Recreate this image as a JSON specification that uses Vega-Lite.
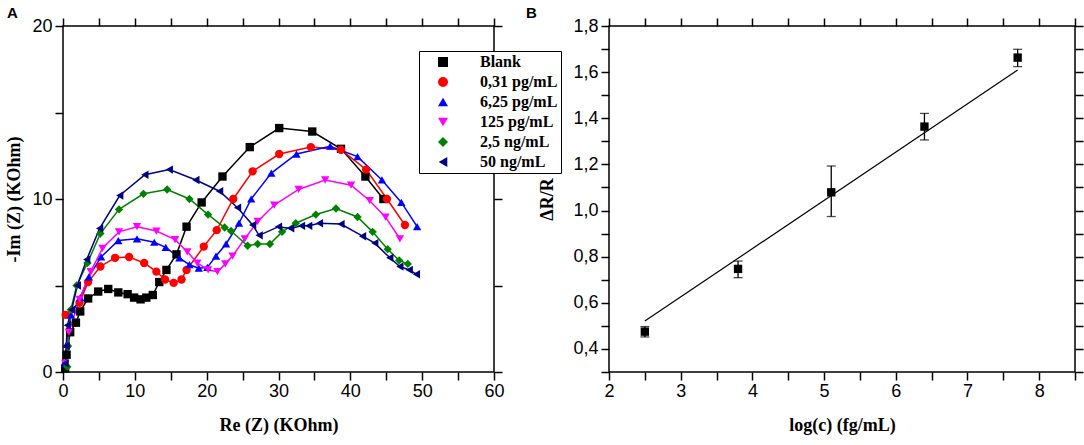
{
"$schema": "https://vega.github.io/schema/vega-lite/v6.json",
"padding": 5,
"background": "white",
"datasets": {
"eis": [
{"s":"Blank","x":0.3,"y":0.2},{"s":"Blank","x":0.5,"y":1.0},{"s":"Blank","x":1.0,"y":2.3},{"s":"Blank","x":1.8,"y":2.85},{"s":"Blank","x":2.4,"y":3.5},{"s":"Blank","x":3.5,"y":4.25},{"s":"Blank","x":4.9,"y":4.65},{"s":"Blank","x":6.3,"y":4.8},{"s":"Blank","x":7.7,"y":4.6},{"s":"Blank","x":9.0,"y":4.5},{"s":"Blank","x":9.9,"y":4.3},{"s":"Blank","x":10.8,"y":4.2},{"s":"Blank","x":11.6,"y":4.3},{"s":"Blank","x":12.5,"y":4.45},{"s":"Blank","x":13.4,"y":5.2},{"s":"Blank","x":14.4,"y":5.9},{"s":"Blank","x":15.8,"y":6.8},{"s":"Blank","x":17.2,"y":8.4},{"s":"Blank","x":19.3,"y":9.8},{"s":"Blank","x":22.2,"y":11.3},{"s":"Blank","x":26.0,"y":13.0},{"s":"Blank","x":30.1,"y":14.1},{"s":"Blank","x":34.7,"y":13.9},{"s":"Blank","x":38.7,"y":12.9},{"s":"Blank","x":42.1,"y":11.3},{"s":"Blank","x":44.6,"y":10.0},
{"s":"0,31 pg/mL","x":0.37,"y":3.3},{"s":"0,31 pg/mL","x":2.3,"y":4.0},{"s":"0,31 pg/mL","x":3.5,"y":5.2},{"s":"0,31 pg/mL","x":5.2,"y":6.1},{"s":"0,31 pg/mL","x":7.25,"y":6.6},{"s":"0,31 pg/mL","x":9.2,"y":6.65},{"s":"0,31 pg/mL","x":11.3,"y":6.3},{"s":"0,31 pg/mL","x":13.0,"y":5.8},{"s":"0,31 pg/mL","x":14.2,"y":5.35},{"s":"0,31 pg/mL","x":15.4,"y":5.15},{"s":"0,31 pg/mL","x":16.5,"y":5.35},{"s":"0,31 pg/mL","x":17.2,"y":5.9},{"s":"0,31 pg/mL","x":19.6,"y":7.25},{"s":"0,31 pg/mL","x":21.4,"y":8.2},{"s":"0,31 pg/mL","x":23.7,"y":10.0},{"s":"0,31 pg/mL","x":26.4,"y":11.6},{"s":"0,31 pg/mL","x":30.1,"y":12.6},{"s":"0,31 pg/mL","x":34.5,"y":13.0},{"s":"0,31 pg/mL","x":38.7,"y":12.85},{"s":"0,31 pg/mL","x":42.2,"y":11.7},{"s":"0,31 pg/mL","x":45.1,"y":10.0},{"s":"0,31 pg/mL","x":47.6,"y":8.5},
{"s":"6,25 pg/mL","x":0.3,"y":0.5},{"s":"6,25 pg/mL","x":0.5,"y":1.6},{"s":"6,25 pg/mL","x":1.1,"y":3.3},{"s":"6,25 pg/mL","x":2.4,"y":4.3},{"s":"6,25 pg/mL","x":3.6,"y":5.5},{"s":"6,25 pg/mL","x":5.3,"y":6.65},{"s":"6,25 pg/mL","x":7.7,"y":7.6},{"s":"6,25 pg/mL","x":10.3,"y":7.7},{"s":"6,25 pg/mL","x":12.7,"y":7.5},{"s":"6,25 pg/mL","x":14.3,"y":7.2},{"s":"6,25 pg/mL","x":16.2,"y":6.6},{"s":"6,25 pg/mL","x":17.6,"y":6.2},{"s":"6,25 pg/mL","x":18.9,"y":6.0},{"s":"6,25 pg/mL","x":20.1,"y":6.05},{"s":"6,25 pg/mL","x":21.3,"y":6.7},{"s":"6,25 pg/mL","x":22.7,"y":7.4},{"s":"6,25 pg/mL","x":24.5,"y":8.6},{"s":"6,25 pg/mL","x":26.2,"y":10.0},{"s":"6,25 pg/mL","x":29.0,"y":11.5},{"s":"6,25 pg/mL","x":32.5,"y":12.6},{"s":"6,25 pg/mL","x":37.2,"y":13.05},{"s":"6,25 pg/mL","x":41.0,"y":12.45},{"s":"6,25 pg/mL","x":44.4,"y":11.1},{"s":"6,25 pg/mL","x":47.1,"y":9.8},{"s":"6,25 pg/mL","x":49.3,"y":8.4},
{"s":"125 pg/mL","x":0.3,"y":0.5},{"s":"125 pg/mL","x":0.8,"y":2.3},{"s":"125 pg/mL","x":2.3,"y":4.2},{"s":"125 pg/mL","x":3.85,"y":5.8},{"s":"125 pg/mL","x":5.5,"y":7.15},{"s":"125 pg/mL","x":7.8,"y":8.1},{"s":"125 pg/mL","x":10.3,"y":8.4},{"s":"125 pg/mL","x":13.0,"y":8.15},{"s":"125 pg/mL","x":15.6,"y":7.65},{"s":"125 pg/mL","x":17.3,"y":6.95},{"s":"125 pg/mL","x":18.7,"y":6.3},{"s":"125 pg/mL","x":20.2,"y":5.9},{"s":"125 pg/mL","x":21.5,"y":5.8},{"s":"125 pg/mL","x":22.6,"y":6.25},{"s":"125 pg/mL","x":23.6,"y":6.7},{"s":"125 pg/mL","x":25.3,"y":7.7},{"s":"125 pg/mL","x":27.1,"y":8.7},{"s":"125 pg/mL","x":29.4,"y":9.65},{"s":"125 pg/mL","x":32.8,"y":10.55},{"s":"125 pg/mL","x":36.5,"y":11.1},{"s":"125 pg/mL","x":40.1,"y":10.8},{"s":"125 pg/mL","x":42.7,"y":9.9},{"s":"125 pg/mL","x":44.9,"y":8.95},{"s":"125 pg/mL","x":46.9,"y":7.7},
{"s":"2,5 ng/mL","x":0.6,"y":0.3},{"s":"2,5 ng/mL","x":0.7,"y":1.5},{"s":"2,5 ng/mL","x":1.1,"y":3.6},{"s":"2,5 ng/mL","x":1.9,"y":5.0},{"s":"2,5 ng/mL","x":3.4,"y":6.3},{"s":"2,5 ng/mL","x":5.2,"y":8.0},{"s":"2,5 ng/mL","x":7.8,"y":9.4},{"s":"2,5 ng/mL","x":11.2,"y":10.3},{"s":"2,5 ng/mL","x":14.5,"y":10.55},{"s":"2,5 ng/mL","x":17.6,"y":10.0},{"s":"2,5 ng/mL","x":20.2,"y":9.1},{"s":"2,5 ng/mL","x":22.5,"y":8.35},{"s":"2,5 ng/mL","x":23.4,"y":8.15},{"s":"2,5 ng/mL","x":25.7,"y":7.3},{"s":"2,5 ng/mL","x":27.1,"y":7.4},{"s":"2,5 ng/mL","x":28.8,"y":7.4},{"s":"2,5 ng/mL","x":30.5,"y":8.1},{"s":"2,5 ng/mL","x":32.4,"y":8.6},{"s":"2,5 ng/mL","x":35.2,"y":9.1},{"s":"2,5 ng/mL","x":38.0,"y":9.45},{"s":"2,5 ng/mL","x":41.0,"y":8.96},{"s":"2,5 ng/mL","x":43.1,"y":8.1},{"s":"2,5 ng/mL","x":45.2,"y":7.1},{"s":"2,5 ng/mL","x":46.8,"y":6.45},{"s":"2,5 ng/mL","x":48.0,"y":6.25},
{"s":"50 ng/mL","x":0.3,"y":0.5},{"s":"50 ng/mL","x":0.45,"y":1.5},{"s":"50 ng/mL","x":0.6,"y":2.7},{"s":"50 ng/mL","x":1.2,"y":3.6},{"s":"50 ng/mL","x":2.0,"y":5.0},{"s":"50 ng/mL","x":3.3,"y":6.5},{"s":"50 ng/mL","x":5.1,"y":8.3},{"s":"50 ng/mL","x":7.9,"y":10.2},{"s":"50 ng/mL","x":11.4,"y":11.4},{"s":"50 ng/mL","x":14.8,"y":11.7},{"s":"50 ng/mL","x":18.5,"y":11.1},{"s":"50 ng/mL","x":21.8,"y":10.45},{"s":"50 ng/mL","x":24.3,"y":9.5},{"s":"50 ng/mL","x":26.4,"y":8.5},{"s":"50 ng/mL","x":27.3,"y":7.9},{"s":"50 ng/mL","x":30.0,"y":8.4},{"s":"50 ng/mL","x":31.7,"y":8.3},{"s":"50 ng/mL","x":33.2,"y":8.45},{"s":"50 ng/mL","x":34.2,"y":8.45},{"s":"50 ng/mL","x":35.7,"y":8.6},{"s":"50 ng/mL","x":38.7,"y":8.55},{"s":"50 ng/mL","x":41.7,"y":7.85},{"s":"50 ng/mL","x":43.4,"y":7.45},{"s":"50 ng/mL","x":45.5,"y":6.6},{"s":"50 ng/mL","x":46.9,"y":6.1},{"s":"50 ng/mL","x":48.2,"y":5.9},{"s":"50 ng/mL","x":49.2,"y":5.65}
],
"cal": [
{"x":2.5,"y":0.475,"lo":0.452,"hi":0.497},
{"x":3.8,"y":0.747,"lo":0.709,"hi":0.781},
{"x":5.1,"y":1.079,"lo":0.974,"hi":1.193},
{"x":6.4,"y":1.364,"lo":1.306,"hi":1.421},
{"x":7.7,"y":1.663,"lo":1.624,"hi":1.699}
],
"fit": [
{"x":2.5,"y":0.521},
{"x":7.7,"y":1.609}
]
},
"hconcat": [
{
"width": 431,
"height": 346,
"title": {"text": "A", "anchor": "start", "frame": "group", "dx": -56, "offset": -4, "font": "Liberation Sans", "fontSize": 15, "fontWeight": "bold", "color": "black"},
"resolve": {"axis": {"x": "independent", "y": "independent"}},
"layer": [
{
"data": {"name": "eis"},
"mark": {"type": "line", "strokeWidth": 1.5},
"encoding": {
"x": {"field": "x", "type": "quantitative", "scale": {"domain": [0, 60], "nice": false, "zero": false},
"axis": {"orient": "bottom", "values": [0,5,10,15,20,25,30,35,40,45,50,55,60], "labelExpr": "datum.value % 10 === 0 ? datum.label : ''", "tickSize": 8, "encode": {"ticks": {"update": {"y2": {"signal": "datum.value % 10 === 0 ? 8 : 4"}}}}, "labelPadding": 2, "title": "Re (Z) (KOhm)", "titlePadding": 16}},
"y": {"field": "y", "type": "quantitative", "scale": {"domain": [0, 20], "nice": false, "zero": false},
"axis": {"orient": "left", "values": [0,5,10,15,20], "labelExpr": "datum.value % 10 === 0 ? datum.label : ''", "tickSize": 8, "encode": {"ticks": {"update": {"x2": {"signal": "datum.value % 10 === 0 ? -8 : -4"}}}}, "labelPadding": 3, "title": "-Im (Z) (KOhm)", "titlePadding": 8}},
"color": {"field": "s", "type": "nominal", "scale": {"domain": ["Blank","0,31 pg/mL","6,25 pg/mL","125 pg/mL","2,5 ng/mL","50 ng/mL"], "range": ["#000000","#ff0000","#0000ff","#ff00ff","#008000","#000080"]},
"legend": {"title": null, "orient": "none", "legendX": 356, "legendY": 25, "padding": 3, "strokeColor": "black", "fillColor": "white", "symbolSize": 100, "symbolStrokeWidth": 0, "symbolOffset": 13, "labelOffset": 29, "rowPadding": 4, "labelFont": "Liberation Serif", "labelFontWeight": "bold", "labelFontSize": 16, "labelColor": "black",
"encode": {"symbols": {"update": {
"shape": {"signal": "['M-3.7,-0.15H3.7V0.15H-3.7ZM-0.8,-0.8H0.8V0.8H-0.8Z','M-3.7,-0.15H3.7V0.15H-3.7ZM0.85,0A0.85,0.85,0,1,1,-0.85,0A0.85,0.85,0,1,1,0.85,0Z','M-3.7,-0.15H3.7V0.15H-3.7ZM0,-0.85L0.95,0.75L-0.95,0.75Z','M-3.7,-0.15H3.7V0.15H-3.7ZM0,0.85L0.95,-0.75L-0.95,-0.75Z','M-3.7,-0.15H3.7V0.15H-3.7ZM0,-0.95L0.95,0L0,0.95L-0.95,0Z','M-3.7,-0.15H3.7V0.15H-3.7ZM-0.85,0L0.75,-0.95L0.75,0.95Z'][indexof(['Blank','0,31 pg/mL','6,25 pg/mL','125 pg/mL','2,5 ng/mL','50 ng/mL'], datum.value)]"},
"fill": {"signal": "['#000000','#ff0000','#0000ff','#ff00ff','#008000','#000080'][indexof(['Blank','0,31 pg/mL','6,25 pg/mL','125 pg/mL','2,5 ng/mL','50 ng/mL'], datum.value)]"},
"opacity": {"value": 1},
"size": {"value": 100}
}}}}}
}
},
{
"data": {"name": "eis"},
"mark": {"type": "point", "filled": true, "size": 70, "opacity": 1},
"encoding": {
"x": {"field": "x", "type": "quantitative", "scale": {"domain": [0, 60], "nice": false, "zero": false},
"axis": {"orient": "top", "values": [0,5,10,15,20,25,30,35,40,45,50,55,60], "labels": false, "tickSize": 8, "encode": {"ticks": {"update": {"y2": {"signal": "datum.value % 10 === 0 ? 8 : 4"}}}}, "title": null}},
"y": {"field": "y", "type": "quantitative", "scale": {"domain": [0, 20], "nice": false, "zero": false},
"axis": {"orient": "right", "values": [0,5,10,15,20], "labels": false, "tickSize": 8, "encode": {"ticks": {"update": {"x2": {"signal": "datum.value % 10 === 0 ? -8 : -4"}}}}, "title": null}},
"color": {"field": "s", "type": "nominal", "scale": {"domain": ["Blank","0,31 pg/mL","6,25 pg/mL","125 pg/mL","2,5 ng/mL","50 ng/mL"], "range": ["#000000","#ff0000","#0000ff","#ff00ff","#008000","#000080"]},
"legend": {"title": null, "orient": "none", "legendX": 356, "legendY": 25, "padding": 3, "strokeColor": "black", "fillColor": "white", "symbolSize": 100, "symbolStrokeWidth": 0, "symbolOffset": 13, "labelOffset": 29, "rowPadding": 4, "labelFont": "Liberation Serif", "labelFontWeight": "bold", "labelFontSize": 16, "labelColor": "black",
"encode": {"symbols": {"update": {
"shape": {"signal": "['M-3.7,-0.15H3.7V0.15H-3.7ZM-0.8,-0.8H0.8V0.8H-0.8Z','M-3.7,-0.15H3.7V0.15H-3.7ZM0.85,0A0.85,0.85,0,1,1,-0.85,0A0.85,0.85,0,1,1,0.85,0Z','M-3.7,-0.15H3.7V0.15H-3.7ZM0,-0.85L0.95,0.75L-0.95,0.75Z','M-3.7,-0.15H3.7V0.15H-3.7ZM0,0.85L0.95,-0.75L-0.95,-0.75Z','M-3.7,-0.15H3.7V0.15H-3.7ZM0,-0.95L0.95,0L0,0.95L-0.95,0Z','M-3.7,-0.15H3.7V0.15H-3.7ZM-0.85,0L0.75,-0.95L0.75,0.95Z'][indexof(['Blank','0,31 pg/mL','6,25 pg/mL','125 pg/mL','2,5 ng/mL','50 ng/mL'], datum.value)]"},
"fill": {"signal": "['#000000','#ff0000','#0000ff','#ff00ff','#008000','#000080'][indexof(['Blank','0,31 pg/mL','6,25 pg/mL','125 pg/mL','2,5 ng/mL','50 ng/mL'], datum.value)]"},
"opacity": {"value": 1},
"size": {"value": 100}
}}}}},
"shape": {"field": "s", "type": "nominal", "scale": {"domain": ["Blank","0,31 pg/mL","6,25 pg/mL","125 pg/mL","2,5 ng/mL","50 ng/mL"], "range": ["square","circle","triangle-up","triangle-down","diamond","triangle-left"]}, "legend": null}
}
}
]
},
{
"width": 466,
"height": 346,
"title": {"text": "B", "anchor": "start", "frame": "group", "dx": -83, "offset": -4, "font": "Liberation Sans", "fontSize": 15, "fontWeight": "bold", "color": "black"},
"resolve": {"axis": {"x": "independent", "y": "independent"}},
"layer": [
{
"data": {"name": "fit"},
"mark": {"type": "line", "color": "black", "strokeWidth": 1.2},
"encoding": {
"x": {"field": "x", "type": "quantitative", "scale": {"domain": [2, 8.5], "nice": false, "zero": false},
"axis": {"orient": "top", "values": [2,2.5,3,3.5,4,4.5,5,5.5,6,6.5,7,7.5,8,8.5], "labels": false, "tickSize": 8, "encode": {"ticks": {"update": {"y2": {"signal": "datum.value % 1 === 0 ? 8 : 4"}}}}, "title": null}},
"y": {"field": "y", "type": "quantitative", "scale": {"domain": [0.3, 1.8], "nice": false, "zero": false},
"axis": {"orient": "right", "values": [0.3,0.4,0.5,0.6,0.7,0.8,0.9,1.0,1.1,1.2,1.3,1.4,1.5,1.6,1.7,1.8], "labels": false, "tickSize": 8, "encode": {"ticks": {"update": {"x2": {"signal": "round(datum.value*10) % 2 === 0 ? -8 : -4"}}}}, "title": null}}
}
},
{
"data": {"name": "cal"},
"mark": {"type": "errorbar", "color": "black", "ticks": {"size": 9, "thickness": 1.3, "color": "black"}, "rule": {"strokeWidth": 1.3, "color": "black"}},
"encoding": {
"x": {"field": "x", "type": "quantitative", "axis": null},
"y": {"field": "lo", "type": "quantitative", "axis": null},
"y2": {"field": "hi"}
}
},
{
"data": {"name": "cal"},
"mark": {"type": "point", "shape": "square", "filled": true, "size": 70, "color": "black", "opacity": 1},
"encoding": {
"x": {"field": "x", "type": "quantitative",
"axis": {"orient": "bottom", "values": [2,2.5,3,3.5,4,4.5,5,5.5,6,6.5,7,7.5,8,8.5], "labelExpr": "datum.value % 1 === 0 ? format(datum.value, 'd') : ''", "tickSize": 8, "encode": {"ticks": {"update": {"y2": {"signal": "datum.value % 1 === 0 ? 8 : 4"}}}}, "labelPadding": 2, "title": "log(c) (fg/mL)", "titlePadding": 16}},
"y": {"field": "y", "type": "quantitative",
"axis": {"orient": "left", "values": [0.3,0.4,0.5,0.6,0.7,0.8,0.9,1.0,1.1,1.2,1.3,1.4,1.5,1.6,1.7,1.8], "labelExpr": "round(datum.value*10) % 2 === 0 ? replace(format(datum.value, '.1f'), '.', ',') : ''", "tickSize": 8, "encode": {"ticks": {"update": {"x2": {"signal": "round(datum.value*10) % 2 === 0 ? -8 : -4"}}}}, "labelPadding": 3, "title": "ΔR/R", "titlePadding": 16}}
}
}
]
}
],
"config": {
"view": {"stroke": "black", "strokeWidth": 1.5},
"concat": {"spacing": 20},
"axis": {"domain": false, "grid": false, "tickColor": "black", "tickWidth": 1.5, "labelFont": "Liberation Sans", "labelFontSize": 18, "labelColor": "black", "labelOverlap": false, "labelFlush": false, "titleFont": "Liberation Serif", "titleFontWeight": "bold", "titleFontSize": 18, "titleColor": "black"}
}
}
